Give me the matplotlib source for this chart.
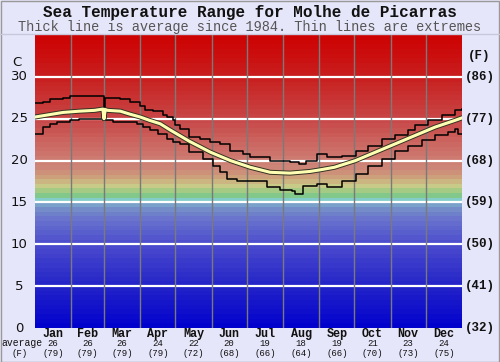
import numpy as np
import matplotlib
matplotlib.use("Agg")
import matplotlib.pyplot as plt
import matplotlib.patheffects as pe
from matplotlib.transforms import blended_transform_factory

# data (day of year, deg C)
upper_days = [0, 7, 13, 24, 30, 58, 59, 60, 73, 81, 90, 94, 101, 109, 113, 118, 120, 124, 132, 141,
              150, 158, 167, 178, 184, 201, 218, 226, 232, 241, 250, 262, 274, 285, 297, 308,
              319, 325, 336, 348, 359, 365]
upper_vals = [26.9, 27.0, 27.4, 27.5, 27.7, 27.7, 25.6, 27.5, 27.3, 27.0, 26.5, 26.1, 25.9, 25.5, 25.2, 24.8, 24.2,
              23.8, 22.8, 22.6, 22.2, 22.0, 21.2, 20.8, 20.4, 20.0, 19.8, 19.6, 20.0, 20.8, 20.4,
              20.6, 21.2, 21.8, 22.6, 23.0, 23.6, 24.2, 24.8, 25.4, 26.0, 26.2]

mean_days = [0, 13, 24, 38, 51, 58, 59, 60, 62, 73, 81, 90, 98, 107, 115, 132, 150, 167, 184, 201,
             218, 235, 244, 256, 274, 291, 308, 325, 342, 359, 365]
mean_vals = [25.2, 25.5, 25.75, 25.9, 26.0, 26.15, 25.0, 26.1, 26.0, 25.9, 25.55, 25.2, 24.8, 24.4, 23.7,
             22.3, 21.0, 20.0, 19.2, 18.6, 18.5, 18.7, 18.9, 19.2, 20.0, 21.0, 22.0, 23.0,
             24.0, 24.8, 25.1]

lower_days = [0, 7, 13, 19, 30, 38, 58, 67, 87, 92, 98, 105, 113, 118, 124, 132, 144, 152, 158,
              164, 173, 198, 209, 220, 222, 229, 241, 250, 262, 274, 285, 297, 308, 319, 331,
              342, 353, 359, 362, 365]
lower_vals = [23.2, 24.0, 24.4, 24.6, 24.8, 25.0, 24.8, 24.55, 24.4, 24.0, 23.6, 23.2, 22.6, 22.2,
              22.0, 21.0, 20.2, 19.4, 18.6, 17.8, 17.6, 16.8, 16.5, 16.4, 16.0, 17.0, 17.2, 16.8,
              17.6, 18.4, 19.4, 20.2, 21.2, 21.8, 22.4, 23.0, 23.4, 23.8, 23.2, 23.2]

months = ["Jan", "Feb", "Mar", "Apr", "May", "Jun", "Jul", "Aug", "Sep", "Oct", "Nov", "Dec"]
month_len = [31, 28, 31, 30, 31, 30, 31, 31, 30, 31, 30, 31]
avg_c = [26, 26, 26, 24, 22, 20, 19, 18, 19, 21, 23, 24]
avg_f = [79, 79, 79, 79, 72, 68, 66, 64, 66, 70, 73, 75]

c_ticks = [0, 5, 10, 15, 20, 25, 30]
f_labels = ["(32)", "(41)", "(50)", "(59)", "(68)", "(77)", "(86)"]

# colour of background bands by temperature (C)
anchor_t = [0, 5, 10, 13, 14.6, 15.2, 15.9, 16.9, 17.9, 18.9, 20, 25, 30, 35]
anchor_rgb = np.array([
    (0, 0, 205), (35, 35, 200), (75, 75, 205), (105, 115, 205), (120, 150, 200), (130, 205, 210),
    (130, 200, 130), (200, 205, 135), (205, 165, 125), (205, 135, 120), (205, 125, 115),
    (200, 70, 70), (200, 30, 30), (205, 0, 0)]) / 255.0

bg = "#e6e6fa"
fig = plt.figure(figsize=(5, 3.62), dpi=100, facecolor=bg)
ax = fig.add_axes([35 / 500, 34 / 362, 427 / 500, 293 / 362])
ax.set_xlim(0, 365)
ax.set_ylim(0, 35)

# bands, one per degree F
edges_f = np.arange(32, 96, 1.0)
for f0 in edges_f:
    c0 = (f0 - 32) * 5 / 9
    c1 = (f0 + 1 - 32) * 5 / 9
    mid = (c0 + c1) / 2
    col = [np.interp(mid, anchor_t, anchor_rgb[:, k]) for k in range(3)]
    ax.axhspan(c0, c1, color=col, lw=0, zorder=0)

for t in c_ticks[1:]:
    ax.axhline(t, color="white", lw=1.6, zorder=1)

bounds = np.cumsum([0] + month_len)
for b in bounds[1:-1]:
    ax.axvline(b, color="#7a7a7a", lw=1, zorder=1)

ax.plot(upper_days, upper_vals, drawstyle="steps-post", color="black", lw=1.1, zorder=3)
ax.plot(lower_days, lower_vals, drawstyle="steps-post", color="black", lw=1.1, zorder=3)
ax.plot(mean_days, mean_vals, color="#ffffb4", lw=2.2, zorder=4,
        path_effects=[pe.Stroke(linewidth=3.6, foreground="#333322"), pe.Normal()])

ax.set_xticks([])
ax.set_yticks([])
for s in ax.spines.values():
    s.set_visible(False)

# y labels
tr = blended_transform_factory(fig.transFigure, ax.transData)
for t, fl in zip(c_ticks, f_labels):
    ax.text(19 / 500, t, str(t), transform=tr, ha="center", va="center",
            fontsize=9.5, family="DejaVu Sans", color="#111111")
    ax.text(480 / 500, t, fl, transform=tr, ha="center", va="center",
            fontsize=9, family="Liberation Mono", weight="bold", color="#111111")
fig.text(17 / 500, 1 - 62 / 362, "C", ha="center", va="center", fontsize=9.5,
         family="DejaVu Sans", color="#111111")
fig.text(479 / 500, 1 - 56 / 362, "(F)", ha="center", va="center", fontsize=9,
         family="Liberation Mono", weight="bold", color="#111111")

# month labels
trx = blended_transform_factory(ax.transData, fig.transFigure)
centers = bounds[:-1] + np.array(month_len) / 2
for cx, m, ac, af in zip(centers, months, avg_c, avg_f):
    ax.text(cx, 1 - 334 / 362, m, transform=trx, ha="center", va="center", fontsize=8.5,
            family="Liberation Mono", weight="bold", color="#111111")
    ax.text(cx, 1 - 343.5 / 362, str(ac), transform=trx, ha="center", va="center", fontsize=6.5,
            family="Liberation Mono", color="#111111")
    ax.text(cx, 1 - 353 / 362, "(%d)" % af, transform=trx, ha="center", va="center", fontsize=6.5,
            family="Liberation Mono", color="#111111")
fig.text(22 / 500, 1 - 343.5 / 362, "average", ha="center", va="center", fontsize=7,
         family="Liberation Mono", color="#111111")
fig.text(20 / 500, 1 - 353 / 362, "(F)", ha="center", va="center", fontsize=6.5,
         family="Liberation Mono", color="#111111")

# titles
fig.text(0.5, 1 - 12 / 362, "Sea Temperature Range for Molhe de Picarras", ha="center", va="center",
         fontsize=11.5, family="Liberation Mono", weight="bold", color="#111111")
fig.text(0.5, 1 - 27 / 362, "Thick line is average since 1984. Thin lines are extremes", ha="center",
         va="center", fontsize=9.8, family="Liberation Mono", color="#555555")
fig.add_artist(plt.Line2D([0, 1], [1 - 34 / 362] * 2, color="#c8c8dc", lw=1))
fig.add_artist(plt.Rectangle((0.001, 0.001), 0.997, 0.997, fill=False, ec="#999999", lw=1))

fig.savefig("out.png", dpi=100, facecolor=bg)
